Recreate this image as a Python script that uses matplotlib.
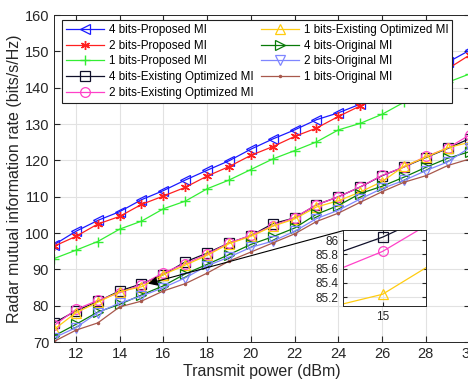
import numpy as np
import matplotlib
matplotlib.use('Agg')
import matplotlib.pyplot as plt

plt.rcParams['font.family'] = ['Liberation Sans', 'DejaVu Sans']

# transmit power (dBm)
power = [11, 12, 13, 14, 15, 16, 17, 18, 19, 20, 21, 22, 23, 24, 25, 26, 27, 28, 29, 30]

# radar mutual information rate
prop_4 = [96.8, 100.5, 103.5, 105.9, 109.2, 111.7, 114.6, 117.3, 119.9, 123.1,
          125.9, 128.4, 131.2, 133.1, 135.5, 138.5, 141.3, 144.2, 147.0, 150.3]
prop_2 = [96.4, 99.1, 102.5, 104.6, 107.9, 110.2, 112.6, 115.7, 118.3, 121.4,
          123.8, 126.6, 128.9, 132.1, 135.0, 137.5, 140.0, 142.6, 145.2, 149.0]
prop_1 = [93.0, 95.3, 97.7, 101.1, 103.3, 106.7, 108.8, 112.2, 114.6, 117.5,
          120.4, 122.7, 125.1, 128.4, 130.2, 132.7, 136.0, 138.8, 141.5, 143.8]
exist_4 = [75.3, 78.6, 81.2, 84.1, 86.04, 88.6, 92.1, 94.5, 97.3, 99.3,
           102.6, 104.2, 107.8, 110.0, 112.7, 115.8, 118.2, 120.8, 123.3, 126.0]
exist_2 = [74.6, 79.0, 81.5, 83.6, 85.84, 89.1, 91.6, 94.2, 97.3, 99.4,
           102.0, 104.3, 107.8, 110.0, 112.7, 115.9, 118.2, 121.1, 123.4, 127.0]
exist_1 = [73.5, 78.1, 81.0, 83.9, 85.24, 88.6, 91.2, 93.9, 97.1, 99.1,
           101.9, 103.9, 107.2, 108.9, 111.3, 114.2, 118.4, 120.9, 123.5, 125.0]
orig_4 = [71.7, 74.9, 78.3, 80.4, 83.0, 85.5, 88.8, 91.4, 94.1, 96.9,
          99.0, 101.4, 105.2, 107.6, 110.9, 112.9, 115.4, 118.1, 120.6, 122.4]
orig_2 = [71.2, 74.0, 78.1, 80.8, 82.7, 85.0, 87.7, 91.0, 93.4, 96.1,
          97.8, 100.5, 104.0, 106.3, 109.4, 112.3, 114.5, 117.2, 119.6, 123.5]
orig_1 = [70.2, 73.3, 75.3, 79.7, 81.3, 84.1, 86.1, 89.0, 92.3, 94.8,
          97.3, 99.8, 103.2, 105.5, 108.5, 111.4, 114.0, 115.8, 118.6, 120.4]

asterisk = (6, 2, 0)
series = [
    (prop_4, '4 bits-Proposed MI', '#1a1aff', '<', 'none'),
    (prop_2, '2 bits-Proposed MI', '#ff2020', asterisk, None),
    (prop_1, '1 bits-Proposed MI', '#33ee33', '+', None),
    (exist_4, '4 bits-Existing Optimized MI', '#10102a', 's', 'none'),
    (exist_2, '2 bits-Existing Optimized MI', '#ff40c8', 'o', 'none'),
    (exist_1, '1 bits-Existing Optimized MI', '#ffcc10', '^', 'none'),
    (orig_4, '4 bits-Original MI', '#087a08', '>', 'none'),
    (orig_2, '2 bits-Original MI', '#7f86ff', 'v', 'none'),
    (orig_1, '1 bits-Original MI', '#a8584c', '.', None),
]

txt = '#262626'
fig = plt.figure(figsize=(4.68, 3.86), dpi=100)
ax = fig.add_axes([0.1154, 0.1135, 0.888, 0.8475])

for y, lab, c, m, fc in series:
    kw = dict(color=c, marker=m, lw=0.9, label=lab)
    if fc == 'none':
        kw.update(markerfacecolor='none', markersize=7, markeredgewidth=0.9)
    elif m == '.':
        kw.update(markersize=3)
    else:
        kw.update(markersize=6.5, markeredgewidth=1.0)
    ax.plot(power, y, **kw)

ax.set_xlim(11, 30)
ax.set_ylim(70, 160)
ax.set_xticks(np.arange(12, 31, 2))
ax.set_yticks(np.arange(70, 161, 10))
ax.grid(True, color='#e2e2e2', lw=0.8)
ax.set_axisbelow(True)
ax.tick_params(direction='in', top=True, right=True, labelsize=10.5, colors=txt, length=4)
for s in ax.spines.values():
    s.set_color(txt)
    s.set_linewidth(0.7)
ax.set_xlabel('Transmit power (dBm)', fontsize=11.5, color=txt, labelpad=2)
ax.set_ylabel('Radar mutual information rate (bits/s/Hz)', fontsize=11.5, color=txt, labelpad=2)

leg = ax.legend(ncol=2, loc='upper left', bbox_to_anchor=(0.02, 0.984), fontsize=8.4,
                frameon=True, fancybox=False, edgecolor='#202020', framealpha=1,
                handlelength=3.3, handletextpad=0.4, columnspacing=0.6,
                labelspacing=0.33, borderpad=0.3, borderaxespad=0)
leg.get_frame().set_linewidth(0.8)

# arrow from the inset to the zoomed point
arrow_from = (24.23, 100.7)
arrow_to = (15.3, 86.1)
ax.annotate('', xy=arrow_to, xytext=arrow_from,
            arrowprops=dict(arrowstyle='-|>', color='k', lw=0.8, mutation_scale=14,
                            shrinkA=0, shrinkB=0))

# inset
axin = fig.add_axes([0.7335, 0.208, 0.176, 0.196])
for y, lab, c, m, fc in series[3:6]:
    axin.plot(power, y, color=c, marker=m, lw=0.9, markerfacecolor='none',
              markersize=7, markeredgewidth=0.9)
axin.set_xlim(14.9, 15.11)
axin.set_ylim(85.08, 86.14)
axin.set_xticks([15])
axin.set_yticks([85.2, 85.4, 85.6, 85.8, 86])
axin.set_yticklabels(['85.2', '85.4', '85.6', '85.8', '86'])
axin.grid(True, color='#e2e2e2', lw=0.8)
axin.tick_params(direction='in', top=True, right=True, labelsize=8.5, colors=txt, length=3)
for s in axin.spines.values():
    s.set_color(txt)
    s.set_linewidth(0.7)

fig.savefig('out.png', dpi=100)
